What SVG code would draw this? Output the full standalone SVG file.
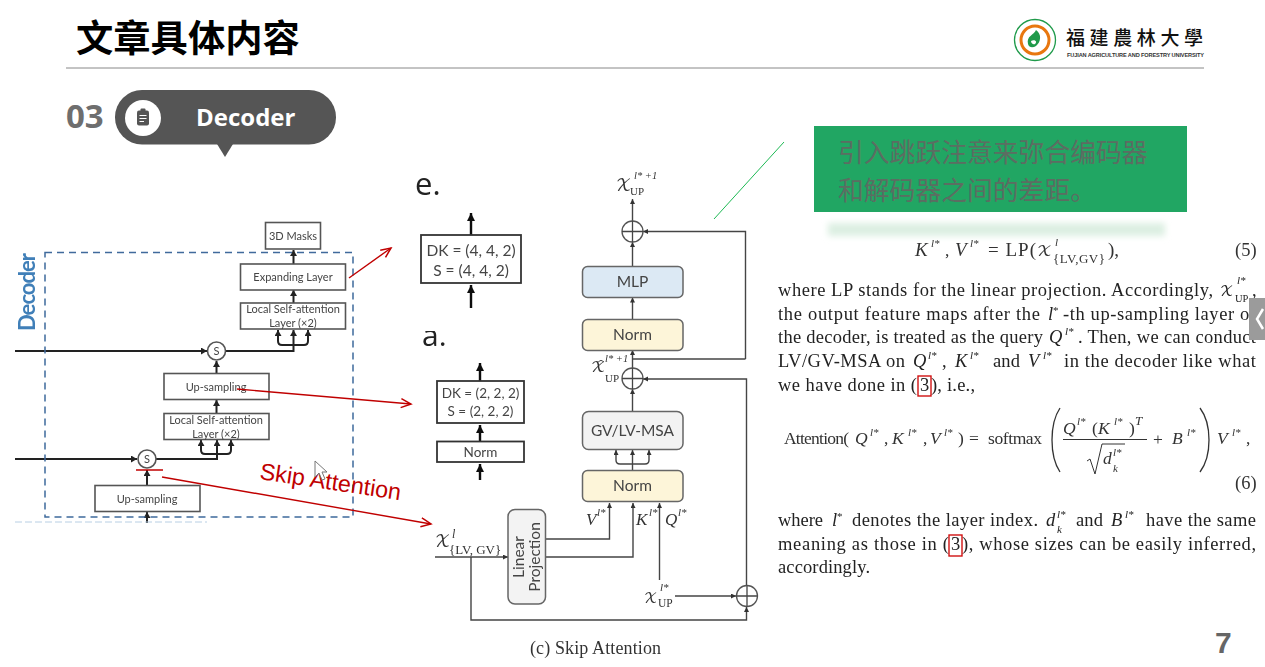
<svg xmlns="http://www.w3.org/2000/svg" width="1265" height="667" viewBox="0 0 1265 667">
<style>
.sa{font-family:Lato,"Open Sans","Liberation Sans",sans-serif;fill:#444;text-anchor:middle}
.s9{font-size:11px}.s14{font-size:15.5px}
.bx{fill:#fff;stroke:#555;stroke-width:1.6}
.bk{fill:#fff;stroke:#333;stroke-width:1.8}
.rb{stroke:#666;stroke-width:1.5}
.ln{fill:none;stroke:#222;stroke-width:2;marker-end:url(#a)}
.ln2{fill:none;stroke:#444;stroke-width:1.4;marker-end:url(#b)}
.pl{fill:none;stroke:#444;stroke-width:1.3}
.hv{fill:none;stroke:#111;stroke-width:2.4;marker-end:url(#c)}
.rd{fill:none;stroke:#c00000;stroke-width:1.4;marker-end:url(#r)}
.t{font-family:"Liberation Serif","Times New Roman",serif;font-size:18.5px;fill:#222}
.i{font-style:italic}
.sp{font-size:11px}
.m{font-family:"Liberation Serif",serif;fill:#333;font-size:17.5px}
.x{font-family:"DejaVu Math TeX Gyre","Liberation Serif",serif}
.cb{fill:none;stroke:#d01010;stroke-width:1.4}
</style>
<defs>
<marker id="a" markerUnits="userSpaceOnUse" markerWidth="8" markerHeight="8" refX="6" refY="3.5" orient="auto"><path d="M0 0L6 3.5L0 7z" fill="#222"/></marker>
<marker id="b" markerUnits="userSpaceOnUse" markerWidth="6" markerHeight="6" refX="5" refY="2.5" orient="auto"><path d="M0 0L5 2.500L0 5z" fill="#333"/></marker>
<marker id="c" markerUnits="userSpaceOnUse" markerWidth="10" markerHeight="10" refX="8" refY="4" orient="auto"><path d="M0 0L8 4L0 8z" fill="#111"/></marker>
<marker id="r" markerUnits="userSpaceOnUse" markerWidth="14" markerHeight="14" refX="11" refY="5" orient="auto"><path d="M1 0.5L11 5L1 9.5" fill="none" stroke="#c00000" stroke-width="1.5"/></marker>
<filter id="soft" x="-5%" y="-5%" width="110%" height="110%"><feGaussianBlur stdDeviation="0.35"/></filter>
<filter id="glow" x="-10%" y="-100%" width="120%" height="300%"><feGaussianBlur stdDeviation="3"/></filter>
<clipPath id="acut"><rect x="415" y="331" width="40" height="22"/></clipPath>
</defs>
<rect width="1265" height="667" fill="#fff"/>

<g id="header">
<text x="76" y="52" font-family="'Noto Sans CJK SC',sans-serif" font-size="37.3" font-weight="700" fill="#000">文章具体内容</text>
<line x1="66" y1="68" x2="1204" y2="68" stroke="#888" stroke-width="1"/>
<g id="logo">
<circle cx="1035" cy="40" r="20.500" fill="#fff" stroke="#1f9a4a" stroke-width="1.300"/>
<circle cx="1035" cy="40" r="14" fill="#fff" stroke="#e8770f" stroke-width="3"/>
<path d="M1028 44C1026 36 1034 35 1036 30C1042 34 1041 42 1036 46C1033 48 1029 48 1028 44Z" fill="#1f9a4a"/>
<path d="M1031 41C1034 39 1038 41 1035 44C1033 45 1031 43 1031 41Z" fill="#fff"/>
<text x="1066" y="45" font-family="'Noto Sans CJK TC',sans-serif" font-size="19" font-weight="500" fill="#111" textLength="137">福建農林大學</text>
<text x="1067" y="57" font-family="'Liberation Sans',sans-serif" font-size="5.600" font-weight="700" fill="#333" textLength="137">FUJIAN AGRICULTURE AND FORESTRY UNIVERSITY</text>
</g>
</g>

<g id="section-badge">
<text x="66" y="128" font-family="'Open Sans',sans-serif" font-size="33" font-weight="700" fill="#6e6e6e">03</text>
<rect x="115" y="90" width="221" height="54.500" rx="27" fill="#555"/>
<path d="M217 144L233 144L225 157Z" fill="#555"/>
<circle cx="143" cy="118" r="18" fill="#fff"/>
<rect x="137" y="110.500" width="12" height="15" rx="2" fill="#555"/>
<rect x="140.500" y="108.500" width="5" height="3.500" rx="1" fill="#555"/>
<path d="M139.500 115.500h7M139.500 118.500h7M139.500 121.500h4.500" stroke="#fff" stroke-width="1.200"/>
<text x="196" y="126" font-family="'Open Sans',sans-serif" font-size="24" font-weight="700" fill="#fff">Decoder</text>
</g>

<g id="left-diagram" filter="url(#soft)">
<g id="left-connectors">
<path class="ln" d="M15 351H207"/>
<path class="ln" d="M226 351H293.500V330"/>
<path class="ln" d="M293.500 345H282Q278 345 278 341V330"/>
<path class="ln" d="M293.500 345H304Q308 345 308 341V330"/>
<path class="ln" d="M293.500 303V290"/>
<path class="ln" d="M293.500 264V250"/>
<path class="ln" d="M216.500 373V361"/>
<path class="ln" d="M216.500 413V400"/>
<path class="ln" d="M15 459H137"/>
<path class="ln" d="M156 459H217V440"/>
<path class="ln" d="M217 454H205Q201 454 201 450V440"/>
<path class="ln" d="M217 454H227Q231 454 231 450V440"/>
<path class="ln" d="M147 485V470"/>
<path class="ln" d="M147 523V512"/>
</g>
<rect x="45" y="252.500" width="308" height="264.500" fill="none" stroke="#3f6a9c" stroke-width="1.500" stroke-dasharray="7 5"/>
<line x1="15" y1="522" x2="207" y2="522" stroke="#b8cfe4" stroke-width="1" stroke-dasharray="7 3"/>
<text transform="translate(35 331) rotate(-90)" font-family="Lato,'Open Sans',sans-serif" font-size="22" font-weight="700" fill="#3f7fb8" textLength="78">Decoder</text>
<g id="l-masks"><rect class="bx" x="265.500" y="222.500" width="55" height="26.500"/><text class="sa s9" x="293" y="240">3D Masks</text></g>
<g id="l-expanding"><rect class="bx" x="240.500" y="264" width="105" height="26"/><text class="sa s9" x="293" y="281">Expanding Layer</text></g>
<g id="l-local-1"><rect class="bx" x="240.500" y="303" width="105" height="26"/><text class="sa s9" x="293" y="313">Local Self-attention</text><text class="sa s9" x="293" y="327">Layer (×2)</text></g>
<g id="l-s-1"><circle class="bx" cx="216.500" cy="351" r="9"/><text class="sa s9" x="216.500" y="355">S</text></g>
<g id="l-up-1"><rect class="bx" x="164" y="373.500" width="105" height="26"/><text class="sa s9" x="216" y="391">Up-sampling</text></g>
<g id="l-local-2"><rect class="bx" x="164" y="413.500" width="105" height="26"/><text class="sa s9" x="216" y="423.500">Local Self-attention</text><text class="sa s9" x="216" y="437.500">Layer (×2)</text></g>
<g id="l-s-2"><circle class="bx" cx="147" cy="459" r="9"/><text class="sa s9" x="147" y="463">S</text></g>
<g id="l-up-2"><rect class="bx" x="95" y="485.500" width="105" height="26"/><text class="sa s9" x="147" y="503">Up-sampling</text></g>
</g>

<g id="detail-e-a" filter="url(#soft)">
<text x="415" y="195" font-family="'Open Sans',sans-serif" font-size="31" fill="#222">e.</text>
<text x="422" y="346" font-family="'Open Sans',sans-serif" font-size="30" fill="#222" clip-path="url(#acut)">a.</text>
<g id="arrows-detail">
<path class="hv" d="M471 235V213"/><path class="hv" d="M471 308V285"/>
<path class="hv" d="M480 381V363"/><path class="hv" d="M480 441V425"/><path class="hv" d="M480 480V464"/>
</g>
<g id="dk-e"><rect class="bk" x="421" y="235" width="100" height="48"/><text class="sa s14" x="471" y="256">DK = (4, 4, 2)</text><text class="sa s14" x="471" y="276">S = (4, 4, 2)</text></g>
<g id="dk-a"><rect class="bk" x="437" y="381" width="87" height="42"/><text class="sa" font-size="13.500" x="480.500" y="398">DK = (2, 2, 2)</text><text class="sa" font-size="13.500" x="480.500" y="416">S = (2, 2, 2)</text></g>
<g id="norm-a"><rect class="bk" x="437" y="441.500" width="87" height="20.500"/><text class="sa" font-size="13.500" x="480.500" y="457">Norm</text></g>
</g>

<g id="skip-attention" filter="url(#soft)">
<g id="skip-connectors">
<path class="ln2" d="M632.500 221V199"/>
<path class="ln2" d="M632.500 266V242"/>
<path class="ln2" d="M632.500 319V297.500"/>
<path class="ln2" d="M632.500 368V350"/>
<path class="ln2" d="M632.500 411V389"/>
<path class="ln2" d="M745.500 359V231.500H643"/>
<path class="pl" d="M632.500 359H745.500"/>
<path class="ln2" d="M746.500 585V379H643"/>
<path class="ln2" d="M632.500 470V450"/>
<path class="ln2" d="M632.500 464H620Q616 464 616 460V450"/>
<path class="ln2" d="M632.500 464H645Q649 464 649 460V450"/>
<path class="ln2" d="M435 557H508"/>
<path class="ln2" d="M546 539H609.500V503"/>
<path class="ln2" d="M546 557H633V503"/>
<path class="ln2" d="M659.500 580V503"/>
<path class="ln2" d="M675 596H736"/>
<path class="ln2" d="M471 557V620H746.500V607"/>
</g>
<g id="plus-1"><circle cx="632.500" cy="231.500" r="10.500" fill="#fff" stroke="#555" stroke-width="1.300"/><path class="pl" d="M622 231.500H643M632.500 221V242"/></g>
<g id="plus-2"><circle cx="632.500" cy="378.500" r="10.500" fill="#fff" stroke="#555" stroke-width="1.300"/><path class="pl" d="M622 378.500H643M632.500 368V389"/></g>
<g id="plus-3"><circle cx="747" cy="596" r="10.500" fill="#fff" stroke="#555" stroke-width="1.300"/><path class="pl" d="M736.500 596H757.500M747 585.500V606.500"/></g>
<g id="mlp"><rect class="rb" x="582.500" y="266.500" width="100.500" height="31" rx="5" fill="#dce9f4"/><text class="sa s14" x="632.500" y="287">MLP</text></g>
<g id="norm-top"><rect class="rb" x="582.500" y="319.500" width="100.500" height="31" rx="5" fill="#fdf5d9"/><text class="sa s14" x="632.500" y="340">Norm</text></g>
<g id="msa"><rect class="rb" x="582.500" y="411.500" width="100.500" height="38" rx="6" fill="#f3f3f3"/><text class="sa s14" x="632.500" y="436">GV/LV-MSA</text></g>
<g id="norm-bottom"><rect class="rb" x="582.500" y="470.500" width="100.500" height="31" rx="5" fill="#fdf5d9"/><text class="sa s14" x="632.500" y="491">Norm</text></g>
<g id="linear-projection"><rect class="rb" x="508" y="509.500" width="37.500" height="94.500" rx="7" fill="#f3f3f3"/><text class="sa" font-size="15.500" transform="translate(524 557) rotate(-90)">Linear</text><text class="sa" font-size="15.500" transform="translate(540 557) rotate(-90)">Projection</text></g>
<g id="math-labels" class="m">
<text x="616" y="191" class="x" font-size="16">𝒳</text><text x="634" y="179" class="i" font-size="10.500">l* +1</text><text x="630" y="195" font-size="11">UP</text>
<text x="591" y="372" class="x" font-size="15">𝒳̂</text><text x="605" y="362" class="i" font-size="10.500">l* +1</text><text x="605" y="382" font-size="11">UP</text>
<text x="435" y="547" class="x" font-size="16">𝒳</text><text x="452" y="538" class="i" font-size="12">l</text><text x="449" y="554" font-size="13">{LV, GV}</text>
<text x="586" y="525" class="i" font-size="17">V</text><text x="597" y="516" class="i sp">l*</text>
<text x="636" y="525" class="i" font-size="17">K</text><text x="649" y="516" class="i sp">l*</text>
<text x="665" y="525" class="i" font-size="17">Q</text><text x="678" y="516" class="i sp">l*</text>
<text x="644" y="603" class="x" font-size="14">𝒳</text><text x="660" y="591" class="i sp">l*</text><text x="658" y="607" font-size="11.500">UP</text>
</g>
<text x="530" y="654" font-family="'Liberation Serif',serif" font-size="18" fill="#333" textLength="131">(c) Skip Attention</text>
</g>

<g id="annotation">
<g id="red-arrows">
<path class="rd" d="M349 278L391 248"/>
<path class="rd" d="M237 389L411 404"/>
<path class="rd" d="M162 477L431 524"/>
<line x1="136" y1="470" x2="163" y2="470" stroke="#c00000" stroke-width="1.500"/>
</g>
<text transform="translate(259 479) rotate(8.500)" font-family="'Liberation Sans',sans-serif" font-size="23.300" fill="#c00000">Skip Attention</text>
<path d="M315 461L315 477L319 473L322 480L325 479L322 472L327 472Z" fill="#fff" stroke="#777" stroke-width="1"/>
<line x1="784" y1="142" x2="714" y2="219" stroke="#1db954" stroke-width="1"/>
<rect x="828" y="223" width="337" height="13" fill="#dcefe2" filter="url(#glow)"/>
<rect x="814" y="126" width="373" height="86" fill="#21a663"/>
<text font-family="'Noto Sans CJK SC',sans-serif" font-size="25.800" fill="#5c6d62"><tspan x="838" y="162">引入跳跃注意来弥合编码器</tspan><tspan x="838" y="200">和解码器之间的差距。</tspan></text>
</g>

<g id="paper-text" filter="url(#soft)">
<g id="eq5" class="m">
<text x="915" y="256" class="i" font-size="19">K</text><text x="931" y="247" class="i sp">l*</text><text x="945" y="256">,</text>
<text x="955" y="256" class="i" font-size="19">V</text><text x="970" y="247" class="i sp">l*</text>
<text x="988" y="256" font-size="19" textLength="48">= LP(</text><text x="1037" y="256" class="x" font-size="15.500">𝒳</text><text x="1055" y="246" class="i sp">l</text><text x="1053" y="263" font-size="13" textLength="52">{LV,GV}</text><text x="1108" y="256" font-size="19">),</text>
<text x="1235" y="256" font-size="18.500">(5)</text>
</g>
<g id="para-1" class="t">
<text x="778" y="296" textLength="435">where LP stands for the linear projection. Accordingly,</text>
<text x="1220" y="296" class="x" font-size="14">𝒳</text><text x="1237" y="284" class="i sp">l*</text><text x="1235" y="302" font-size="10.500">UP</text><text x="1252" y="296">,</text>
<text x="778" y="320" textLength="262">the output feature maps after the</text>
<text x="1048" y="320" class="i">l</text><text x="1053" y="314" class="sp">*</text>
<text x="1063" y="320" textLength="193">-th up-sampling layer of</text>
<text x="778" y="343" textLength="265">the decoder, is treated as the query</text>
<text x="1049" y="343" class="i">Q</text><text x="1065" y="335" class="i sp">l*</text>
<text x="1078" y="343" textLength="178">. Then, we can conduct</text>
<text x="778" y="367" textLength="127">LV/GV-MSA on</text>
<text x="913" y="367" class="i">Q</text><text x="928" y="359" class="i sp">l*</text><text x="942" y="367">,</text>
<text x="955" y="367" class="i">K</text><text x="970" y="359" class="i sp">l*</text>
<text x="993" y="367" textLength="27">and</text>
<text x="1028" y="367" class="i">V</text><text x="1043" y="359" class="i sp">l*</text>
<text x="1064" y="367" textLength="192">in the decoder like what</text>
<text x="778" y="391" textLength="139">we have done in (</text><text x="920" y="391">3</text><text x="931" y="391" textLength="44">), i.e.,</text>
<rect class="cb" x="918" y="376" width="13" height="20"/>
</g>
<g id="eq6" class="m">
<text x="784" y="444" textLength="65">Attention(</text>
<text x="855" y="444" class="i">Q</text><text x="870" y="436" class="i sp">l*</text><text x="884" y="444">,</text>
<text x="892" y="444" class="i">K</text><text x="908" y="436" class="i sp">l*</text><text x="923" y="444">,</text>
<text x="930" y="444" class="i">V</text><text x="944" y="436" class="i sp">l*</text><text x="958" y="444">)</text>
<text x="969" y="444">=</text><text x="988" y="444" textLength="54">softmax</text>
<path d="M1060 408Q1052 420 1052 440Q1052 460 1060 472" fill="none" stroke="#333" stroke-width="1.300"/>
<text x="1063" y="434" class="i">Q</text><text x="1077" y="425" class="i sp">l*</text><text x="1092" y="434">(</text><text x="1098" y="434" class="i">K</text><text x="1114" y="425" class="i sp">l*</text><text x="1129" y="434">)</text><text x="1135" y="425" class="i" font-size="13">T</text>
<line x1="1063" y1="439.500" x2="1147" y2="439.500" stroke="#333" stroke-width="1"/>
<path d="M1087 461L1090 459L1095 474L1102 444H1125" fill="none" stroke="#333" stroke-width="1"/>
<text x="1103" y="464" class="i">d</text><text x="1113" y="456" class="i sp">l*</text><text x="1113" y="472" class="i sp">k</text>
<text x="1153" y="445">+</text><text x="1172" y="444" class="i">B</text><text x="1187" y="436" class="i sp">l*</text>
<path d="M1200 408Q1209 420 1209 440Q1209 460 1200 472" fill="none" stroke="#333" stroke-width="1.300"/>
<text x="1217" y="444" class="i">V</text><text x="1232" y="436" class="i sp">l*</text><text x="1246" y="444">,</text>
<text x="1235" y="489" font-size="18.500">(6)</text>
</g>
<g id="para-2" class="t">
<text x="778" y="526" textLength="45">where</text>
<text x="832" y="526" class="i">l</text><text x="837" y="520" class="sp">*</text>
<text x="852" y="526" textLength="186">denotes the layer index.</text>
<text x="1046" y="526" class="i">d</text><text x="1057" y="518" class="i sp">l*</text><text x="1057" y="533" class="i sp">k</text>
<text x="1076" y="526" textLength="27">and</text>
<text x="1111" y="526" class="i">B</text><text x="1125" y="518" class="i sp">l*</text>
<text x="1146" y="526" textLength="110">have the same</text>
<text x="778" y="550" textLength="171">meaning as those in (</text><text x="951" y="550">3</text><text x="962" y="550" textLength="294">), whose sizes can be easily inferred,</text>
<rect class="cb" x="949" y="535" width="13" height="21"/>
<text x="778" y="573" textLength="92">accordingly.</text>
</g>
</g>

<g id="page-ui">
<rect x="1249" y="298" width="16" height="42" fill="#9b9b9b"/>
<path d="M1263 309L1257 319L1263 329" fill="none" stroke="#fff" stroke-width="2.500"/>
<text x="1215" y="653" font-family="'Liberation Sans',sans-serif" font-size="30" font-weight="700" fill="#666">7</text>
</g>
</svg>
